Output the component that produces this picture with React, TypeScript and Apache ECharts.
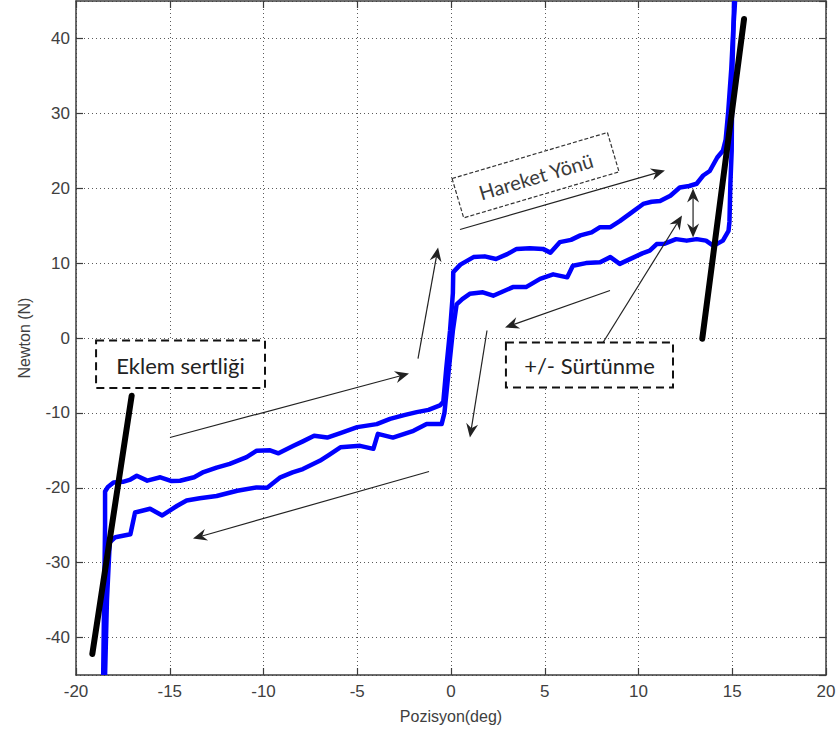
import React, { useEffect, useRef } from "react";
import * as echarts from "echarts";

// ---- data ----
const xMin = -20;
const xMax = 20;
const yMin = -45;
const yMax = 45;

// forward motion (moving right) – upper branch of the hysteresis loop
const upperBranch: number[][] = [
  [-18.55, -45], [-18.5, -35], [-18.45, -25], [-18.45, -20.5], [-18.3, -19.9], [-18.0, -19.3],
  [-17.5, -19.2], [-17.1, -18.9], [-16.76, -18.4], [-16.2, -19.05], [-15.5, -18.6], [-14.9, -19.1],
  [-14.45, -19.06], [-13.7, -18.6], [-13.2, -17.9], [-12.5, -17.3], [-11.8, -16.8], [-10.9, -15.9],
  [-10.36, -15.05], [-9.65, -15.0], [-9.2, -15.4], [-8.4, -14.4], [-7.9, -13.8], [-7.3, -13.05],
  [-6.6, -13.3], [-5.9, -12.7], [-5.0, -11.9], [-3.96, -11.5], [-3.25, -10.8], [-2.5, -10.3],
  [-1.83, -9.9], [-1.2, -9.6], [-0.59, -9.0], [-0.41, -8.5], [-0.25, -4], [-0.05, 1], [0.1, 6],
  [0.12, 8.8], [0.5, 9.8], [1.2, 10.8], [1.8, 10.9], [2.4, 10.55], [3.0, 11.2], [3.5, 11.9],
  [4.2, 12.0], [4.9, 11.9], [5.3, 11.4], [5.8, 12.8], [6.4, 13.1], [6.9, 13.7], [7.5, 14.1],
  [7.95, 14.8], [8.5, 14.8], [9.0, 15.6], [9.55, 16.6], [10.25, 17.9], [10.7, 18.2], [11.15, 18.3],
  [11.7, 19.0], [12.2, 20.1], [12.7, 20.3], [13.1, 20.6], [13.45, 21.7], [13.8, 22.3], [14.2, 24.1],
  [14.5, 25], [14.65, 26.5], [14.79, 30.4], [14.95, 36], [15.05, 41], [15.15, 45],
];

// return motion (moving left) – lower branch
const lowerBranch: number[][] = [
  [15.1, 45], [15.0, 35], [14.97, 25], [14.9, 20.6], [14.85, 15.5], [14.8, 14.3], [14.5, 13],
  [14.0, 12.3], [13.6, 13.0], [13.1, 13.2], [12.57, 13.0], [12.0, 13.2], [11.4, 12.6], [10.97, 12.55],
  [10.6, 11.66], [10.2, 11.3], [9.6, 10.6], [9.0, 9.9], [8.5, 10.8], [7.95, 10.1], [7.2, 10.0],
  [6.5, 9.65], [6.2, 8.1], [5.45, 8.5], [4.75, 7.9], [4.0, 6.8], [3.3, 6.8], [2.25, 5.65],
  [1.7, 6.1], [1.0, 5.9], [0.6, 5.2], [0.3, 4.5], [0.1, 1], [-0.15, -5], [-0.35, -10], [-0.5, -11.5],
  [-1.3, -11.5], [-2.0, -12.4], [-3.1, -13.3], [-3.9, -12.8], [-4.14, -14.8], [-4.85, -14.4],
  [-5.9, -14.6], [-6.5, -15.6], [-7.0, -16.4], [-7.9, -17.5], [-8.45, -17.95], [-9.1, -18.6],
  [-9.8, -20.0], [-10.36, -19.95], [-11.4, -20.4], [-12.5, -21.1], [-13.4, -21.4], [-14.1, -21.7],
  [-14.6, -22.4], [-15.4, -23.7], [-16.05, -22.8], [-16.85, -23.3], [-17.1, -26.2], [-17.9, -26.6],
  [-18.2, -27.3], [-18.35, -35], [-18.45, -45],
];

// joint stiffness lines
const leftStiffness: number[][] = [[-19.13, -42.2], [-17.03, -7.7]];
const rightStiffness: number[][] = [[13.4, -0.1], [15.63, 42.6]];

// ---- annotations (data coordinates) ----
const arrowFrom: number[][] = [
  [0.48, 14.49], [-1.76, -2.74], [8.48, 6.34], [1.92, 1.0], [8.11, -0.6], [12.91, 19.97], [-14.99, -13.29], [-1.17, -17.83],
];
const arrowTo: number[][] = [
  [11.41, 22.37], [-0.69, 12.09], [2.88, 1.4], [1.01, -13.29], [12.32, 16.36], [12.91, 13.42], [-2.24, -4.74], [-13.76, -26.78],
];
const arrowDouble: boolean[] = [false, false, false, false, false, true, false, false];

const boxTexts = ["Eklem sertliği", "+/- Sürtünme"];
const boxCornerA: number[][] = [[-18.93, -0.35], [2.93, -0.6]];
const boxCornerB: number[][] = [[-9.92, -6.68], [11.84, -6.6]];

const dirText = "Hareket Yönü";
const dirCenter = [4.51, 21.74];

function arrowHead(tip: number[], from: number[], L = 14, W = 6, notch = 4.5) {
  const dx = tip[0] - from[0];
  const dy = tip[1] - from[1];
  const len = Math.hypot(dx, dy) || 1;
  const ux = dx / len, uy = dy / len;
  const px = -uy, py = ux;
  const bx = tip[0] - ux * L, by = tip[1] - uy * L;
  return {
    points: [
      [tip[0], tip[1]],
      [bx + px * W, by + py * W],
      [tip[0] - ux * (L - notch), tip[1] - uy * (L - notch)],
      [bx - px * W, by - py * W],
    ],
    neck: [tip[0] - ux * (L - notch), tip[1] - uy * (L - notch)],
  };
}

export default function App() {
  const ref = useRef<HTMLDivElement>(null);

  useEffect(() => {
    if (!ref.current) return;
    const chart = echarts.init(ref.current, undefined, { renderer: "svg" });
    const axisFont = "'Liberation Sans', Arial, sans-serif";
    const tickColor = "#404040";
    const gridLine = { show: true, lineStyle: { color: "#5a5a5a", width: 1, type: [1, 3] as any } };
    const axisLine = { show: true, onZero: false, lineStyle: { color: "#3c3c3c", width: 1.5 } };
    const axisTick = { show: true, inside: true, length: 7, lineStyle: { color: "#3c3c3c", width: 1.2 } };

    chart.setOption({
      animation: false,
      backgroundColor: "#ffffff",
      grid: { left: 76, top: 1, width: 750, height: 674, containLabel: false },
      xAxis: [
        {
          type: "value", min: xMin, max: xMax, interval: 5, position: "bottom",
          axisLine, axisTick, splitLine: gridLine,
          axisLabel: { color: tickColor, fontSize: 17, fontFamily: axisFont, margin: 8 },
          name: "Pozisyon(deg)", nameLocation: "middle", nameGap: 33,
          nameTextStyle: { color: tickColor, fontSize: 16, fontFamily: axisFont },
        },
        {
          type: "value", min: xMin, max: xMax, interval: 5, position: "top",
          axisLine, axisTick, splitLine: { show: false }, axisLabel: { show: false },
        },
      ],
      yAxis: [
        {
          type: "value", min: yMin, max: yMax, splitNumber: 9, position: "left",
          axisLine, axisTick, splitLine: gridLine,
          axisLabel: { color: tickColor, fontSize: 17, fontFamily: axisFont, margin: 6, showMinLabel: false, showMaxLabel: false },
          name: "Newton (N)", nameLocation: "middle", nameGap: 44,
          nameTextStyle: { color: tickColor, fontSize: 16, fontFamily: axisFont },
        },
        {
          type: "value", min: yMin, max: yMax, splitNumber: 9, position: "right",
          axisLine, axisTick, splitLine: { show: false }, axisLabel: { show: false },
        },
      ],
      series: [
        {
          type: "line", data: upperBranch, showSymbol: false, z: 3,
          lineStyle: { color: "#0000ff", width: 4.5, join: "round" },
        },
        {
          type: "line", data: lowerBranch, showSymbol: false, z: 3,
          lineStyle: { color: "#0000ff", width: 4.5, join: "round" },
        },
        {
          type: "line", data: leftStiffness, showSymbol: false, z: 4,
          lineStyle: { color: "#000000", width: 6, cap: "round" },
        },
        {
          type: "line", data: rightStiffness, showSymbol: false, z: 4,
          lineStyle: { color: "#000000", width: 6, cap: "round" },
        },
      ],
    });

    const px = (p: number[]) => chart.convertToPixel({ xAxisIndex: 0, yAxisIndex: 0 }, p) as number[];
    const graphics: any[] = [];
    const stroke = "#222";

    arrowFrom.forEach((f, i) => {
      const a = px(f);
      const b = px(arrowTo[i]);
      const hb = arrowHead(b, a);
      let start = a;
      if (arrowDouble[i]) {
        const ha = arrowHead(a, b);
        start = ha.neck;
        graphics.push({ type: "polygon", shape: { points: ha.points }, style: { fill: stroke }, z: 10 });
      }
      graphics.push({
        type: "line",
        shape: { x1: start[0], y1: start[1], x2: hb.neck[0], y2: hb.neck[1] },
        style: { stroke, lineWidth: 1.2 },
        z: 10,
      });
      graphics.push({ type: "polygon", shape: { points: hb.points }, style: { fill: stroke }, z: 10 });
    });

    boxTexts.forEach((t, i) => {
      const a = px(boxCornerA[i]);
      const b = px(boxCornerB[i]);
      const x = Math.min(a[0], b[0]);
      const y = Math.min(a[1], b[1]);
      const w = Math.abs(b[0] - a[0]);
      const h = Math.abs(b[1] - a[1]);
      graphics.push({
        type: "rect", shape: { x, y, width: w, height: h },
        style: { fill: "#ffffff", stroke: "#111", lineWidth: 2, lineDash: [8, 5] }, z: 11,
      });
      graphics.push({
        type: "text", x: x + w / 2, y: y + h / 2 + 1, z: 12,
        style: { text: t, fill: "#222", font: "22px Lato, 'Open Sans', sans-serif", align: "center", verticalAlign: "middle" },
      });
    });

    const c = px(dirCenter);
    const ang = (16.5 * Math.PI) / 180;
    graphics.push({
      type: "group", x: c[0], y: c[1], rotation: ang, z: 11,
      children: [
        {
          type: "rect", shape: { x: -81, y: -20.5, width: 162, height: 41 },
          style: { fill: "#ffffff", stroke: "#333", lineWidth: 1.2, lineDash: [4, 2] }, z: 11,
        },
        {
          type: "text", x: 0, y: 1, z: 12,
          style: { text: dirText, fill: "#3a3a3a", font: "20px Lato, 'Open Sans', sans-serif", align: "center", verticalAlign: "middle" },
        },
      ],
    });

    chart.setOption({ graphic: graphics });

    return () => chart.dispose();
  }, []);

  return (
    <div
      ref={ref}
      style={{ position: "fixed", left: 0, top: 0, width: 839, height: 734, background: "#fff" }}
    />
  );
}
